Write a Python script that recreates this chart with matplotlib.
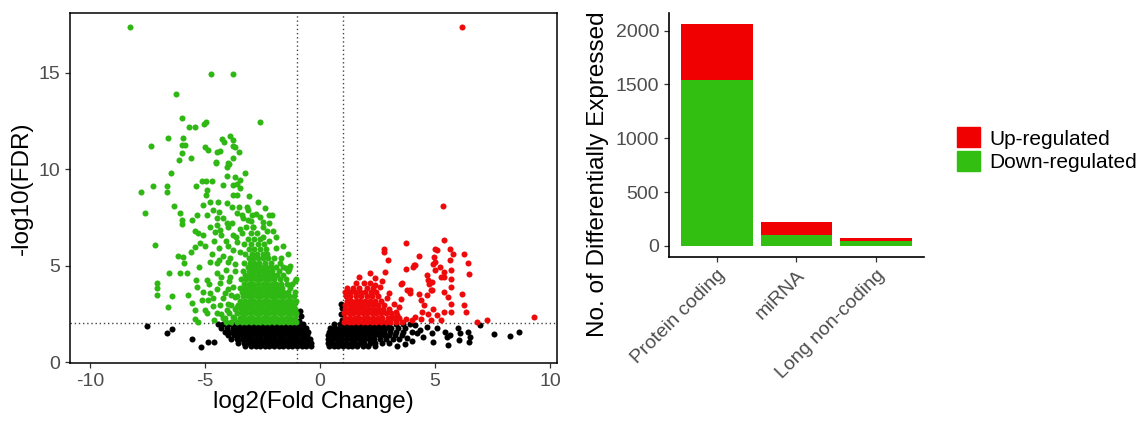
"""Volcano plot + stacked bar of differentially expressed genes."""
import matplotlib
matplotlib.use("Agg")
import matplotlib.pyplot as plt
import numpy as np
from matplotlib.patches import Patch

plt.rcParams["font.family"] = ["Liberation Sans", "DejaVu Sans"]
plt.rcParams["axes.unicode_minus"] = False

GREEN = "#2fb814"
RED = "#ee0a0a"
BAR_GREEN = "#33bf12"
BAR_RED = "#f00000"
TICK_GREY = "#4d4d4d"

# ---- volcano: scattered points (log2FC, -log10 FDR) ----
GREEN_PTS = [
    (-8.25, 17.37), (-4.74, 14.93), (-3.77, 14.93), (-6.26, 13.89), (-2.61, 12.45),
    (-6.01, 12.63), (-5.71, 12.2), (-5.42, 12.2), (-4.96, 12.47), (-5.03, 12.33),
    (-7.36, 11.22), (-6.62, 11.64), (-5.97, 11.64), (-6.01, 11.26), (-5.87, 11.26),
    (-5.99, 10.83), (-6.12, 10.47), (-5.62, 10.6), (-4.99, 11.16), (-4.88, 11.02),
    (-4.49, 10.91), (-4.35, 10.96), (-4.54, 10.39), (-4.25, 11.57), (-4.17, 11.4),
    (-3.91, 11.74), (-3.77, 11.5), (-3.77, 11.19), (-3.51, 10.91), (-3.7, 11.17),
    (-3.77, 10.57), (-3.99, 10.3),
    (-6.49, 9.82), (-7.28, 9.13), (-6.67, 9.13), (-6.67, 8.84), (-7.77, 8.82),
    (-7.61, 7.75), (-6.35, 8.11), (-6.09, 7.75), (-5.99, 7.37), (-5.99, 7.16),
    (-5.57, 7.37), (-5.39, 9.13), (-5.14, 9.41), (-4.97, 9.41), (-4.71, 9.41),
    (-4.91, 8.93), (-4.96, 8.67), (-4.52, 10.34), (-4.06, 10.13), (-3.94, 10.28),
    (-4.06, 9.65), (-3.7, 9.62), (-3.26, 9.82), (-4.2, 9.18), (-3.8, 9.18),
    (-3.62, 9.24), (-3.48, 9.44), (-3.62, 8.68), (-3.77, 8.68), (-4.78, 8.32),
    (-4.42, 8.32), (-4.06, 8.27), (-5.07, 8.15), (-3.84, 8.06), (-3.51, 8.06),
    (-3.19, 8.06), (-3.12, 7.89), (-2.97, 7.63), (-4.64, 7.89), (-4.38, 7.8),
    (-5.36, 7.63), (-4.93, 7.63), (-4.49, 7.45), (-4.2, 7.45), (-4.06, 7.2),
    (-3.84, 7.2), (-3.62, 7.72), (-3.4, 7.63), (-3.33, 7.45), (-3.12, 7.37),
    (-2.61, 7.54), (-2.46, 7.28), (-2.1, 7.63), (-2.03, 6.81), (-5.43, 6.81),
    (-5.29, 6.68), (-5.07, 6.59), (-7.17, 6.07), (-6.16, 5.5), (-5.94, 5.47),
    (-5.91, 5.12), (-5.61, 5.72), (-5.43, 5.98), (-5.22, 6.16), (-5.0, 6.02),
    (-4.78, 7.02), (-4.49, 7.11), (-4.57, 6.76), (-4.35, 6.85),
    (-7.1, 4.11), (-7.1, 3.82), (-7.07, 3.48), (-6.62, 2.87), (-6.45, 3.42),
    (-6.55, 4.6), (-6.09, 4.6), (-5.8, 4.6), (-5.73, 3.48), (-5.58, 3.04),
    (-5.43, 2.7), (-5.43, 2.22), (-5.29, 2.09), (-5.36, 3.91), (-5.39, 4.26),
    (-5.26, 4.91), (-4.93, 4.26), (-4.81, 4.05), (-4.78, 3.57), (-4.86, 3.22),
    (-5.0, 2.7), (-4.9, 2.53), (-5.14, 3.22), (-5.07, 3.65), (-4.49, 4.6),
    (-4.35, 4.08), (-4.13, 3.57), (-4.35, 2.96), (-4.49, 2.53), (-4.2, 2.27),
    (-4.06, 2.7), (-4.49, 5.12), (-4.09, 4.77), (-3.91, 4.43), (-3.77, 3.91),
    (-3.7, 3.39), (-3.62, 2.87), (-3.77, 2.35),
    (-4.7, 5.6), (-4.4, 5.9), (-4.1, 6.3), (-3.9, 5.4), (-4.6, 6.3), (-4.2, 5.5),
    (-3.8, 6.6), (-4.0, 7.0), (-3.6, 6.2), (-3.5, 5.7), (-3.7, 5.1), (-4.3, 6.6),
    (-4.8, 5.2), (-3.5, 6.9), (-3.1, 8.6), (-2.9, 7.0), (-2.7, 8.3), (-2.5, 6.5),
    (-2.2, 6.3), (-1.9, 5.9), (-1.7, 5.4), (-1.5, 4.9), (-1.3, 5.0), (-1.1, 4.2),
    (-3.5, 9.0), (-2.23, 7.61), (-1.6, 4.93), (-1.37, 4.84), (-1.05, 4.33),
    (-4.6, 2.2), (-4.3, 2.5), (-4.0, 3.0), (-4.2, 3.3), (-4.5, 3.8), (-4.0, 3.8),
    (-3.95, 4.2), (-4.3, 4.4), (-3.7, 4.7), (-4.0, 5.2), (-4.4, 5.3), (-3.8, 5.8),
    (-4.0, 6.0), (-3.65, 6.5), (-3.85, 3.45), (-4.15, 2.3), (-4.65, 3.3), (-4.65, 2.9),
    (-2.5, 7.0), (-2.3, 6.8), (-2.8, 7.7), (-2.4, 8.0), (-3.0, 7.3), (-2.2, 7.2),
    (-1.9, 6.5), (-1.6, 6.0), (-1.4, 5.6),
]

# dense green block: (y, x values along that row)
GREEN_ROWS = [
    (2.08, [-4.1, -3.85, -3.6, -3.4, -3.2, -3.0, -2.8, -2.6, -2.4, -2.2, -2.0, -1.8, -1.6, -1.4, -1.2, -1.05]),
    (2.3, [-3.75, -3.5, -3.3, -3.1, -2.9, -2.7, -2.5, -2.3, -2.1, -1.9, -1.7, -1.5, -1.3, -1.1]),
    (2.52, [-3.95, -3.6, -3.4, -3.2, -3.0, -2.8, -2.6, -2.4, -2.2, -2.0, -1.8, -1.6, -1.4, -1.2, -1.03]),
    (2.74, [-3.7, -3.45, -3.25, -3.05, -2.85, -2.65, -2.45, -2.25, -2.05, -1.85, -1.65, -1.45, -1.25, -1.08]),
    (2.96, [-3.85, -3.55, -3.35, -3.15, -2.95, -2.75, -2.55, -2.35, -2.15, -1.95, -1.75, -1.55, -1.35, -1.15]),
    (3.18, [-3.5, -3.25, -3.05, -2.85, -2.65, -2.45, -2.25, -2.05, -1.85, -1.65, -1.45, -1.25, -1.06]),
    (3.4, [-3.6, -3.35, -3.15, -2.95, -2.75, -2.55, -2.35, -2.15, -1.95, -1.75, -1.55, -1.35, -1.15]),
    (3.62, [-3.4, -3.2, -3.0, -2.8, -2.6, -2.4, -2.2, -2.0, -1.8, -1.6, -1.4, -1.1]),
    (3.84, [-3.5, -3.25, -3.05, -2.85, -2.65, -2.45, -2.25, -2.05, -1.85, -1.65, -1.3]),
    (4.06, [-3.3, -3.1, -2.9, -2.7, -2.5, -2.3, -2.1, -1.9, -1.7, -1.45, -1.2]),
    (4.28, [-3.45, -3.2, -3.0, -2.8, -2.6, -2.4, -2.2, -2.0, -1.75, -1.5]),
    (4.5, [-3.25, -3.05, -2.85, -2.65, -2.45, -2.25, -2.05, -1.85, -1.6]),
    (4.72, [-3.35, -3.1, -2.9, -2.7, -2.5, -2.3, -2.1, -1.8, -1.4]),
    (4.94, [-3.15, -2.95, -2.75, -2.55, -2.35, -2.15, -1.9]),
    (5.16, [-3.3, -3.05, -2.85, -2.65, -2.4, -2.15, -1.75]),
    (5.38, [-3.1, -2.9, -2.7, -2.5, -2.25, -2.0]),
    (5.6, [-3.25, -2.95, -2.75, -2.5, -2.3]),
    (5.85, [-3.1, -2.85, -2.6, -2.35]),
    (6.1, [-3.3, -3.0, -2.7, -2.45]),
    (6.4, [-3.15, -2.85, -2.6]),
    (6.7, [-3.4, -3.0, -2.75]),
    (7.0, [-3.2, -2.9]),
]

RED_PTS = [
    (6.15, 17.35), (5.35, 8.08), (3.74, 6.19), (2.8, 5.88), (2.8, 5.71), (2.96, 5.28),
    (4.29, 5.5), (5.0, 5.88), (5.39, 6.31), (5.63, 5.88), (5.79, 5.62), (5.63, 5.28),
    (6.26, 5.62), (4.97, 5.45), (4.92, 5.1), (6.42, 5.16), (6.49, 4.58), (4.1, 5.02),
    (3.74, 4.84), (3.51, 4.07), (3.9, 3.72), (4.29, 3.55), (4.73, 4.03), (4.84, 3.72),
    (5.0, 4.76), (5.24, 4.41), (5.39, 4.67), (5.68, 4.79), (5.71, 4.33), (5.68, 3.89),
    (5.39, 3.63), (5.55, 3.37), (6.18, 3.55), (5.71, 3.03), (5.71, 2.6), (6.26, 2.94),
    (6.34, 2.6), (4.37, 3.2), (4.53, 2.94), (4.45, 2.6), (4.69, 2.51), (4.92, 2.77),
    (4.14, 2.34), (4.37, 2.25), (5.08, 2.42), (5.24, 2.16), (5.39, 2.6), (3.51, 3.29),
    (3.43, 2.85), (3.35, 2.42), (3.74, 2.25), (3.98, 2.16), (3.11, 2.34), (6.81, 2.08),
    (7.25, 2.16), (9.29, 2.34), (4.84, 2.16), (2.17, 4.6), (2.39, 4.34), (1.71, 4.43),
    (2.83, 4.69), (3.55, 4.08), (3.77, 3.74), (3.91, 3.57), (4.06, 4.95), (4.13, 5.03),
    (4.64, 4.51), (4.71, 4.26), (4.86, 4.17), (4.86, 3.74), (4.64, 3.48), (5.07, 5.81),
    (5.0, 5.2), (5.22, 4.91), (5.39, 4.43), (2.6, 3.9), (3.0, 3.6), (3.2, 3.0),
    (2.9, 3.3), (3.3, 2.6), (2.4, 4.0), (2.7, 4.2), (1.9, 4.1),
]

RED_ROWS = [
    (2.08, [1.05, 1.25, 1.45, 1.65, 1.85, 2.05, 2.25, 2.45, 2.65, 2.85, 3.05, 3.3, 3.55]),
    (2.3, [1.1, 1.3, 1.5, 1.7, 1.9, 2.1, 2.3, 2.5, 2.7, 2.95, 3.2, 3.45]),
    (2.52, [1.05, 1.25, 1.45, 1.65, 1.85, 2.05, 2.25, 2.45, 2.65, 2.85, 3.1]),
    (2.74, [1.1, 1.3, 1.5, 1.7, 1.9, 2.1, 2.3, 2.5, 2.75, 3.0]),
    (2.96, [1.08, 1.28, 1.48, 1.68, 1.88, 2.08, 2.28, 2.5, 2.8]),
    (3.18, [1.15, 1.35, 1.55, 1.75, 1.95, 2.15, 2.4, 2.65]),
    (3.4, [1.12, 1.32, 1.55, 1.8, 2.02, 2.25, 2.5]),
    (3.62, [1.1, 1.3, 1.5, 1.72, 1.95, 2.2, 2.45]),
    (3.84, [1.15, 1.45, 1.7, 2.05, 2.3]),
    (4.1, [1.55, 2.15]),
]

BLACK_PTS = [
    (-7.52, 1.85), (-6.67, 1.5), (-6.43, 1.73), (-5.58, 1.18), (-5.17, 0.78),
    (-4.87, 1.04), (-4.59, 1.04), (-0.9, 2.15), (-0.85, 2.4), (-0.88, 2.65),
    (4.13, 1.92), (4.35, 1.66), (4.49, 1.31), (4.64, 1.83), (4.86, 1.49), (4.93, 1.05),
    (5.07, 1.75), (5.43, 1.57), (5.51, 1.31), (5.58, 0.88), (5.65, 1.4), (6.01, 1.75),
    (6.09, 1.49), (6.06, 1.14), (6.45, 1.57), (6.52, 1.31), (6.49, 1.05), (6.96, 1.92),
    (7.58, 1.43), (8.26, 1.37), (8.65, 1.57), (3.8, 1.25), (4.0, 1.1), (3.7, 0.95),
    (4.2, 1.5), (3.35, 0.85), (0.95, 2.2), (0.92, 2.5), (0.97, 2.8), (0.9, 3.0),
]

BLACK_ROWS = [
    (1.95, [-4.45, -4.2, -3.95, -3.7, -3.5, -3.3, -3.1, -2.9, -2.7, -2.5, -2.3, -2.1, -1.9, -1.7, -1.5, -1.3, -1.1, -0.9, -0.75]),
    (1.76, [-4.3, -4.05, -3.8, -3.6, -3.4, -3.2, -3.0, -2.8, -2.6, -2.4, -2.2, -2.0, -1.8, -1.6, -1.4, -1.2, -1.0, -0.8, -0.62]),
    (1.57, [-4.15, -3.9, -3.7, -3.5, -3.3, -3.1, -2.9, -2.7, -2.5, -2.3, -2.1, -1.9, -1.7, -1.5, -1.3, -1.1, -0.9, -0.7, -0.52]),
    (1.38, [-4.0, -3.75, -3.55, -3.35, -3.15, -2.95, -2.75, -2.55, -2.35, -2.15, -1.95, -1.75, -1.55, -1.35, -1.15, -0.95, -0.75, -0.55]),
    (1.19, [-3.85, -3.6, -3.4, -3.2, -3.0, -2.8, -2.6, -2.4, -2.2, -2.0, -1.8, -1.6, -1.4, -1.2, -1.0, -0.8, -0.6, -0.45]),
    (1.0, [-3.55, -3.3, -3.1, -2.9, -2.7, -2.5, -2.3, -2.1, -1.9, -1.7, -1.5, -1.3, -1.1, -0.9, -0.7, -0.5, -0.38]),
    (0.82, [-3.25, -3.0, -2.8, -2.6, -2.4, -2.2, -2.0, -1.8, -1.6, -1.4, -1.2, -1.0, -0.8, -0.6, -0.4]),
    (1.95, [0.6, 0.85, 1.1, 1.3, 1.5, 1.7, 1.9, 2.1, 2.3, 2.5, 2.75, 3.0, 3.3, 3.6, 3.9]),
    (1.76, [0.45, 0.65, 0.85, 1.05, 1.25, 1.45, 1.65, 1.85, 2.05, 2.25, 2.45, 2.65, 2.85, 3.1, 3.4, 3.7]),
    (1.57, [0.38, 0.58, 0.78, 0.98, 1.18, 1.38, 1.58, 1.78, 1.98, 2.18, 2.38, 2.6, 2.8, 3.05, 3.3, 3.6, 4.0]),
    (1.38, [0.35, 0.55, 0.75, 0.95, 1.15, 1.35, 1.55, 1.75, 1.95, 2.15, 2.35, 2.55, 2.8, 3.0, 3.25, 3.55]),
    (1.19, [0.33, 0.53, 0.73, 0.93, 1.13, 1.33, 1.53, 1.73, 1.93, 2.13, 2.35, 2.6, 2.85, 3.15, 3.45]),
    (1.0, [0.33, 0.53, 0.73, 0.93, 1.13, 1.33, 1.53, 1.73, 1.93, 2.15, 2.4, 2.7, 3.0]),
    (0.82, [0.4, 0.6, 0.8, 1.0, 1.2, 1.4, 1.6, 1.85, 2.1, 2.4]),
]

FC_CUT = 1.0
FDR_CUT = 2.0

# ---- bar chart ----
CATEGORIES = ["Protein coding", "miRNA", "Long non-coding"]
DOWN = [1540, 100, 47]
UP = [520, 123, 28]


def collect(points, rows):
    xs = [p[0] for p in points]
    ys = [p[1] for p in points]
    for y, row in rows:
        xs += row
        ys += [y] * len(row)
    return np.array(xs), np.array(ys)


fig = plt.figure(figsize=(11.4, 4.21), dpi=100)
ax1 = fig.add_axes([0.0614, 0.1378, 0.4272, 0.8314])
ax2 = fig.add_axes([0.5868, 0.3895, 0.2237, 0.5796])

# volcano
for pts, rows, col in ((BLACK_PTS, BLACK_ROWS, "black"),
                       (GREEN_PTS, GREEN_ROWS, GREEN),
                       (RED_PTS, RED_ROWS, RED)):
    x, y = collect(pts, rows)
    ax1.scatter(x, y, s=19, c=col, linewidths=0, zorder=3)

for v in (-FC_CUT, FC_CUT):
    ax1.axvline(v, color="#444444", ls=(0, (1, 2)), lw=1.0, zorder=2)
ax1.axhline(FDR_CUT, color="#444444", ls=(0, (1, 2)), lw=1.0, zorder=2)

ax1.set_xlim(-10.87, 10.3)
ax1.set_ylim(-0.05, 18.1)
ax1.set_xticks([-10, -5, 0, 5, 10])
ax1.set_yticks([0, 5, 10, 15])
ax1.set_xlabel("log2(Fold Change)", fontsize=17.5, labelpad=1)
ax1.set_ylabel("-log10(FDR)", fontsize=17.5, labelpad=4)
for sp in ax1.spines.values():
    sp.set_linewidth(1.1)
ax1.tick_params(labelsize=14, colors="#333333", labelcolor=TICK_GREY, length=3.5, width=0.9)

# stacked bars
pos = np.arange(1, len(CATEGORIES) + 1)
ax2.bar(pos, DOWN, width=0.9, color=BAR_GREEN, label="Down-regulated")
ax2.bar(pos, UP, width=0.9, bottom=DOWN, color=BAR_RED, label="Up-regulated")
ax2.set_xlim(0.4, 3.6)
ax2.set_ylim(-103, 2163)
ax2.set_yticks([0, 500, 1000, 1500, 2000])
ax2.set_xticks(pos)
ax2.set_xticklabels(CATEGORIES, rotation=45, ha="right", va="top", rotation_mode="anchor")
ax2.spines["top"].set_visible(False)
ax2.spines["right"].set_visible(False)
ax2.spines["left"].set_linewidth(1.2)
ax2.spines["bottom"].set_linewidth(1.2)
ax2.tick_params(labelsize=14, colors="#333333", labelcolor=TICK_GREY, length=3.5, width=0.9)
ax2.set_ylabel("No. of Differentially Expressed", fontsize=17.5)
ax2.yaxis.set_label_coords(-0.235, 0.34)

handles = [Patch(color=BAR_RED, label="Up-regulated"),
           Patch(color=BAR_GREEN, label="Down-regulated")]
fig.legend(handles=handles, loc="upper left", bbox_to_anchor=(0.83, 0.722),
           frameon=False, fontsize=15, handlelength=1.1, handleheight=1.1,
           labelspacing=0.12, handletextpad=0.45, borderpad=0)

fig.savefig("out.png", dpi=100)
plt.close(fig)
